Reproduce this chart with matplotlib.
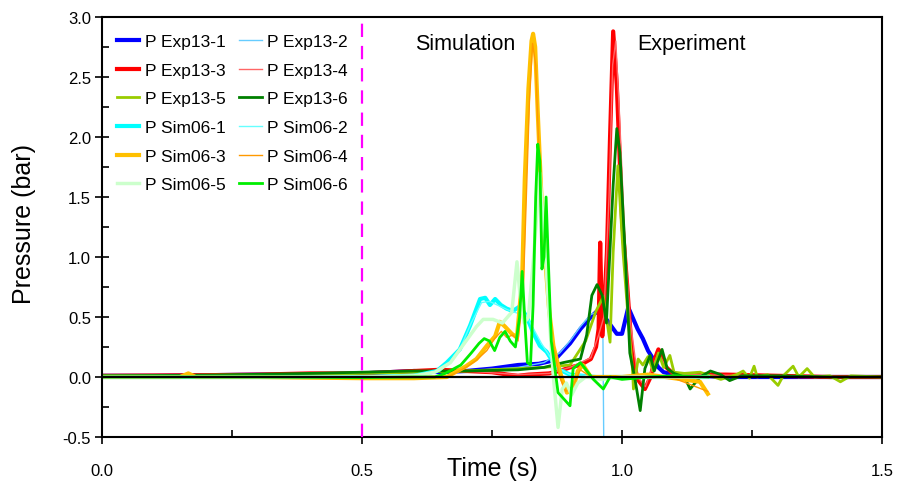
import matplotlib
matplotlib.use("Agg")
import matplotlib.pyplot as plt
from matplotlib.ticker import MultipleLocator, FormatStrFormatter

plt.rcParams['font.family'] = ['Liberation Sans', 'DejaVu Sans']

# --- experiment 13 pressure traces (time in s, pressure in bar) ---
exp1_t = [0, 0.1, 0.2, 0.3, 0.4, 0.5, 0.55, 0.6, 0.65, 0.7, 0.75, 0.8, 0.84, 0.87, 0.9,
          0.92, 0.94, 0.95, 0.96, 0.97, 0.98, 0.99, 1.0, 1.005, 1.012, 1.02, 1.03, 1.04,
          1.05, 1.06, 1.07, 1.08, 1.1, 1.15, 1.2, 1.3, 1.4, 1.5]
exp1_p = [0.01, 0.01, 0.015, 0.02, 0.02, 0.03, 0.04, 0.05, 0.04, 0.05, 0.07, 0.1, 0.11, 0.14, 0.28,
          0.4, 0.5, 0.54, 0.52, 0.48, 0.42, 0.36, 0.36, 0.45, 0.58, 0.5, 0.4, 0.32,
          0.22, 0.15, 0.08, 0.04, 0.02, 0.01, 0.0, 0.0, 0.0, 0.0]

exp2_t = [0, 0.2, 0.4, 0.5, 0.6, 0.7, 0.8, 0.85, 0.88, 0.9, 0.92, 0.94, 0.955, 0.963, 0.965]
exp2_p = [0.01, 0.015, 0.02, 0.03, 0.04, 0.05, 0.08, 0.12, 0.2, 0.3, 0.42, 0.52, 0.55, 0.5, -0.6]

exp3_t = [0, 0.2, 0.3, 0.4, 0.5, 0.55, 0.6, 0.65, 0.7, 0.75, 0.78, 0.8, 0.82, 0.86, 0.88, 0.9,
          0.92, 0.94, 0.95, 0.955, 0.958, 0.962, 0.966, 0.971, 0.977, 0.983, 0.99, 1.0, 1.01,
          1.019, 1.03, 1.044, 1.055, 1.063, 1.07, 1.077, 1.083, 1.1, 1.2, 1.3, 1.4, 1.5]
exp3_p = [0.01, 0.015, 0.02, 0.03, 0.03, 0.04, 0.05, 0.06, 0.05, 0.04, 0.02, 0.01, 0.02, 0.03, 0.05, 0.08,
          0.1, 0.15, 0.25, 0.4, 1.12, 0.34, 0.6, 1.04, 2.0, 2.88, 2.43, 1.32, 0.76,
          0.2, -0.02, -0.1, 0.0, 0.15, 0.23, 0.18, 0.09, 0.02, 0.02, 0.01, 0.0, 0.0]

exp4_t = [0, 0.3, 0.5, 0.6, 0.7, 0.8, 0.86, 0.9, 0.94, 0.955, 0.965, 0.975, 0.982, 0.988,
          0.995, 1.005, 1.015, 1.03, 1.045, 1.06, 1.07, 1.085, 1.1, 1.3, 1.5]
exp4_p = [0.01, 0.02, 0.03, 0.05, 0.05, 0.02, 0.03, 0.08, 0.16, 0.35, 0.5, 1.5, 2.6, 2.8,
          2.2, 1.2, 0.5, 0.0, -0.08, 0.1, 0.2, 0.08, 0.02, 0.01, 0.0]

exp5_t = [0, 0.2, 0.4, 0.5, 0.6, 0.7, 0.8, 0.85, 0.9, 0.93, 0.95, 0.964, 0.977, 0.983, 0.992,
          1.002, 1.012, 1.02, 1.022, 1.031, 1.04, 1.05, 1.06, 1.07, 1.08, 1.092, 1.1, 1.12,
          1.15, 1.19, 1.22, 1.233, 1.245, 1.254, 1.26, 1.28, 1.3, 1.31, 1.329, 1.34, 1.356,
          1.37, 1.4, 1.42, 1.44, 1.5]
exp5_p = [0.01, 0.015, 0.02, 0.03, 0.04, 0.05, 0.07, 0.08, 0.1, 0.3, 0.55, 0.67, 0.29, 1.04, 1.76,
          1.04, 0.48, 0.07, -0.1, 0.15, 0.1, 0.17, 0.05, 0.2, 0.08, 0.18, 0.04, 0.03,
          0.04, -0.02, 0.02, 0.05, -0.01, 0.09, 0.0, 0.02, -0.07, 0.01, 0.09, 0.0, 0.07,
          0.0, 0.01, -0.04, 0.01, 0.0]

exp6_t = [0, 0.2, 0.4, 0.5, 0.6, 0.7, 0.8, 0.85, 0.887, 0.92, 0.932, 0.942, 0.952, 0.962,
          0.97, 0.983, 0.99, 0.996, 1.006, 1.015, 1.025, 1.035, 1.044, 1.054, 1.062, 1.077,
          1.087, 1.1, 1.12, 1.131, 1.15, 1.17, 1.19, 1.207, 1.23, 1.3, 1.4, 1.5]
exp6_p = [0.01, 0.015, 0.03, 0.04, 0.05, 0.05, 0.06, 0.08, 0.12, 0.15, 0.35, 0.68, 0.77, 0.68,
          0.45, 1.6, 2.07, 1.87, 1.04, 0.2, -0.02, -0.28, 0.07, 0.18, 0.05, 0.23,
          0.07, 0.03, 0.0, -0.1, 0.0, 0.05, 0.02, -0.03, 0.01, 0.01, 0.0, 0.0]

# --- simulation 06 pressure traces ---
sim1_t = [0, 0.3, 0.5, 0.6, 0.644, 0.663, 0.688, 0.708, 0.727, 0.737, 0.746, 0.756, 0.767,
          0.778, 0.79, 0.804, 0.817, 0.829, 0.842, 0.855, 0.868, 0.88, 0.9, 0.95, 1.0,
          1.1, 1.165]
sim1_p = [0.0, 0.0, 0.0, 0.01, 0.05, 0.12, 0.23, 0.43, 0.65, 0.66, 0.6, 0.65, 0.6,
          0.57, 0.55, 0.59, 0.5, 0.37, 0.26, 0.21, 0.12, 0.06, 0.02, 0.0, 0.0,
          0.0, 0.0]

sim2_t = [0, 0.3, 0.5, 0.6, 0.65, 0.67, 0.69, 0.71, 0.73, 0.745, 0.76, 0.78, 0.8, 0.815,
          0.83, 0.845, 0.86, 0.875, 0.9, 1.0, 1.165]
sim2_p = [0.0, 0.0, 0.0, 0.01, 0.05, 0.13, 0.25, 0.45, 0.62, 0.63, 0.6, 0.56, 0.53, 0.52,
          0.4, 0.28, 0.18, 0.08, 0.02, 0.0, 0.0]

sim3_t = [0, 0.15, 0.166, 0.18, 0.3, 0.5, 0.6, 0.663, 0.7, 0.72, 0.74, 0.756, 0.765, 0.775,
          0.788, 0.798, 0.808, 0.813, 0.82, 0.826, 0.829, 0.833, 0.838, 0.845, 0.852, 0.86,
          0.868, 0.877, 0.885, 0.894, 0.906, 0.915, 0.925, 0.94, 1.0, 1.05, 1.1, 1.15, 1.165]
sim3_p = [0.0, 0.0, 0.03, 0.0, 0.0, -0.01, -0.01, 0.0, 0.09, 0.15, 0.26, 0.34, 0.46, 0.42,
          0.36, 0.33, 0.82, 1.65, 2.4, 2.8, 2.86, 2.75, 2.2, 1.5, 1.0, 0.55,
          0.26, 0.1, -0.02, -0.13, -0.1, 0.05, 0.1, 0.0, 0.0, 0.02, -0.01, -0.04, -0.14]

sim4_t = [0, 0.3, 0.5, 0.6, 0.665, 0.7, 0.72, 0.74, 0.755, 0.768, 0.778, 0.79, 0.8, 0.81,
          0.816, 0.822, 0.828, 0.834, 0.84, 0.848, 0.856, 0.866, 0.88, 0.892, 0.905, 0.92,
          0.94, 1.0, 1.1, 1.165]
sim4_p = [0.0, 0.0, -0.01, -0.01, 0.0, 0.08, 0.14, 0.22, 0.32, 0.38, 0.33, 0.35, 0.3, 0.7,
          1.5, 2.3, 2.78, 2.6, 1.9, 1.3, 0.8, 0.3, 0.0, -0.12, -0.08, 0.06,
          0.0, 0.0, -0.01, -0.12]

sim5_t = [0, 0.3, 0.5, 0.6, 0.64, 0.67, 0.7, 0.72, 0.733, 0.752, 0.77, 0.788, 0.798, 0.804,
          0.812, 0.82, 0.83, 0.842, 0.85, 0.86, 0.868, 0.877, 0.885, 0.893, 0.903, 0.915,
          0.93, 0.96, 1.0, 1.1, 1.165]
sim5_p = [0.0, 0.0, 0.0, 0.01, 0.04, 0.12, 0.3, 0.42, 0.48, 0.48, 0.45, 0.54, 0.96, 0.68,
          0.45, 0.5, 1.0, 1.7, 1.2, 0.5, 0.0, -0.42, -0.1, -0.05, -0.15, -0.05,
          0.0, -0.02, 0.0, 0.0, 0.0]

sim6_t = [0, 0.3, 0.5, 0.6, 0.64, 0.66, 0.69, 0.71, 0.725, 0.735, 0.745, 0.755, 0.765, 0.775,
          0.785, 0.795, 0.803, 0.808, 0.814, 0.818, 0.824, 0.829, 0.834, 0.838, 0.842, 0.846,
          0.85, 0.854, 0.858, 0.864, 0.877, 0.9, 0.906, 0.92, 0.945, 0.964, 0.977, 1.0,
          1.05, 1.1, 1.165]
sim6_p = [0.0, 0.0, -0.005, 0.0, 0.0, 0.03, 0.1, 0.2, 0.28, 0.32, 0.3, 0.22, 0.33, 0.38,
          0.3, 0.25, 0.5, 0.88, 0.4, 0.12, 0.1, 0.6, 1.5, 1.94, 1.8, 0.9,
          1.0, 1.5, 1.0, 0.3, -0.13, -0.24, 0.07, 0.12, -0.02, -0.1, 0.0, -0.02,
          0.0, 0.01, 0.0]

series = [
    ("P Exp13-1", exp1_t, exp1_p, "#0000ff", 3.0),
    ("P Exp13-2", exp2_t, exp2_p, "#66ccff", 1.0),
    ("P Exp13-3", exp3_t, exp3_p, "#ff0000", 3.0),
    ("P Exp13-4", exp4_t, exp4_p, "#ff6666", 1.0),
    ("P Exp13-5", exp5_t, exp5_p, "#99cc00", 2.0),
    ("P Exp13-6", exp6_t, exp6_p, "#008000", 2.0),
    ("P Sim06-1", sim1_t, sim1_p, "#00ffff", 3.0),
    ("P Sim06-2", sim2_t, sim2_p, "#66ffff", 1.0),
    ("P Sim06-3", sim3_t, sim3_p, "#ffc000", 3.0),
    ("P Sim06-4", sim4_t, sim4_p, "#ff9900", 1.0),
    ("P Sim06-5", sim5_t, sim5_p, "#ccffcc", 2.5),
    ("P Sim06-6", sim6_t, sim6_p, "#00ee00", 2.0),
]

fig = plt.figure(figsize=(8.98, 4.85), dpi=100)
ax = fig.add_axes([0.1136, 0.0969, 0.8686, 0.866])

handles = []
for label, t, p, color, lw in series:
    line, = ax.plot(t, p, color=color, lw=lw, label=label)
    handles.append(line)

ax.axhline(0, color="black", lw=1.6, zorder=5)
ax.axvline(0.5, color="#ff00ff", lw=1.6, linestyle=(0, (6, 4)), zorder=4)

ax.set_xlim(0, 1.5)
ax.set_ylim(-0.5, 3.0)
ax.xaxis.set_major_locator(MultipleLocator(0.5))
ax.xaxis.set_minor_locator(MultipleLocator(0.25))
ax.yaxis.set_major_locator(MultipleLocator(0.5))
ax.yaxis.set_minor_locator(MultipleLocator(0.25))
ax.xaxis.set_major_formatter(FormatStrFormatter("%.1f"))
ax.yaxis.set_major_formatter(FormatStrFormatter("%.1f"))
ax.tick_params(axis="x", which="major", direction="inout", length=10, width=1.2,
               labelsize=12, pad=14)
ax.tick_params(axis="y", which="major", direction="inout", length=10, width=1.2,
               labelsize=12, pad=3)
ax.tick_params(which="minor", direction="in", length=5, width=1.2)
for s in ax.spines.values():
    s.set_linewidth(1.5)

ax.set_xlabel("Time (s)", fontsize=18, va="top")
ax.xaxis.set_label_coords(0.5, -0.045)
ax.set_ylabel("Pressure (bar)", fontsize=18, va="center")
ax.yaxis.set_label_coords(-0.1, 0.51)

ax.text(0.602, 2.775, "Simulation", fontsize=15.5, va="center", ha="left")
ax.text(1.029, 2.775, "Experiment", fontsize=15.5, va="center", ha="left")

# legend is filled row by row in the original (two columns)
order = [0, 2, 4, 6, 8, 10, 1, 3, 5, 7, 9, 11]
ax.legend([handles[i] for i in order], [series[i][0] for i in order],
          loc="upper left", bbox_to_anchor=(0.019, 0.96), ncol=2, frameon=False,
          fontsize=12.5, borderpad=0, borderaxespad=0, handlelength=1.3,
          handletextpad=0.3, columnspacing=0.8, labelspacing=0.78)

fig.savefig("out.png", dpi=100)
